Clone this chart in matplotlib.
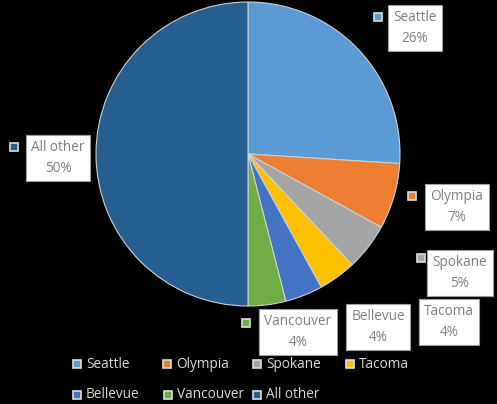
import matplotlib
matplotlib.use("Agg")
import matplotlib.pyplot as plt
from matplotlib.patches import Rectangle

cities = ["Seattle", "Olympia", "Spokane", "Tacoma", "Bellevue", "Vancouver", "All other"]
shares = [26, 7, 5, 4, 4, 4, 50]
colors = ["#5B9BD5", "#ED7D31", "#A5A5A5", "#FFC000", "#4472C4", "#70AD47", "#255E91"]

W, H = 497, 404
fig = plt.figure(figsize=(W / 100, H / 100), dpi=100, facecolor="black")
plt.rcParams['font.family'] = ['Open Sans', 'DejaVu Sans']

cx, cy, r = 248, 154, 152
ax = fig.add_axes([(cx - r) / W, 1 - (cy + r) / H, 2 * r / W, 2 * r / H])
ax.set_facecolor("black")
ax.pie(shares, colors=colors, startangle=90, counterclock=False,
       wedgeprops=dict(edgecolor="#d0d0d0", linewidth=0.8))
ax.set_xlim(-1, 1)
ax.set_ylim(-1, 1)
ax.set_aspect("equal")
ax.axis("off")

# label box centers (px, from top-left) and marker positions (None = hidden)
label_pos = [(415, 28), (457, 207), (460, 273), (449, 322), (378, 327), (298, 332), (58, 158)]
marker_pos = [(378, 17), (412, 196), (421, 258), None, None, (246, 323), (14, 147)]

def fx(x):
    return x / W

def fy(y):
    return 1 - y / H

def square(x, y, col, s=8):
    fig.add_artist(Rectangle((fx(x - s / 2), fy(y + s / 2)), s / W, s / H,
                             transform=fig.transFigure, facecolor=col,
                             edgecolor="#dddddd", linewidth=1.2))

for name, val, col, (lx, ly), mp in zip(cities, shares, colors, label_pos, marker_pos):
    fig.text(fx(lx), fy(ly), f"{name}\n{val}%", ha="center", va="center",
             fontsize=9.8, color="#7f7f7f", linespacing=1.55,
             bbox=dict(boxstyle="square,pad=0.4", facecolor="white",
                       edgecolor="#a0a0a0", linewidth=0.8))
    if mp is not None:
        square(mp[0], mp[1], col)

# legend (two rows, fixed column pitch)
leg_pos = [(77, 364), (167, 364), (257, 364), (350, 364),
           (77, 395), (168, 395), (257, 395)]
for name, col, (mx, my) in zip(cities, colors, leg_pos):
    square(mx, my, col, s=8)
    fig.text(fx(mx + 9), fy(my), name, ha="left", va="center",
             fontsize=9.8, color="#d9d9d9")

fig.savefig("out.png", dpi=100, facecolor="black")
